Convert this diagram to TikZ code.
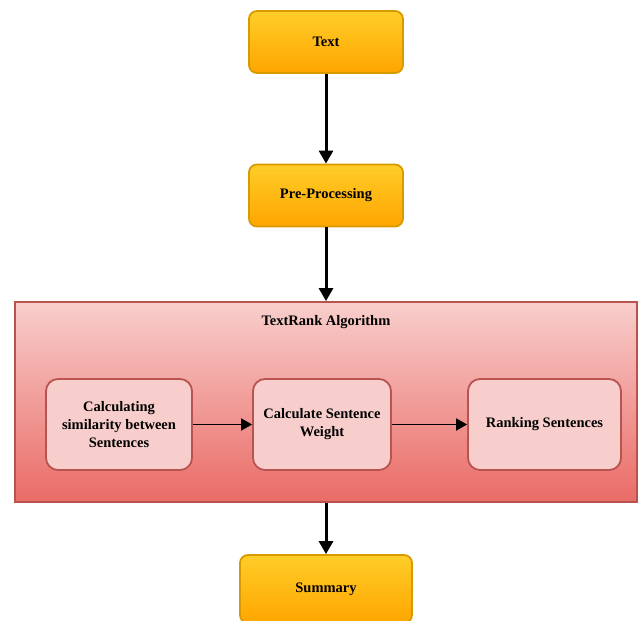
\documentclass[tikz,border=0pt]{standalone}
\usepackage{fontspec}
\setmainfont{Liberation Serif}
\usetikzlibrary{arrows.meta}
\definecolor{orT}{HTML}{FFCD28}
\definecolor{orB}{HTML}{FFA500}
\definecolor{orD}{HTML}{D79B00}
\definecolor{rdT}{HTML}{F8CECC}
\definecolor{rdB}{HTML}{EA6B66}
\definecolor{rdD}{HTML}{B85450}
\tikzset{
  lbl/.style={font=\bfseries\fontsize{14.5}{18}\selectfont},
  orbox/.style={rectangle, rounded corners=8pt, draw=orD, line width=1.8pt, top color=orT, bottom color=orB, lbl, align=center, inner sep=0pt},
  inbox/.style={rectangle, rounded corners=12pt, draw=rdD, line width=1.8pt, fill=rdT, lbl, align=center, inner sep=0pt},
  bigarrow/.style={line width=3pt, -{Triangle[length=13pt,width=14pt]}},
  smallarrow/.style={line width=1.8pt, -{Triangle[length=11pt,width=12pt]}}
}
\begin{document}
\begin{tikzpicture}[x=1pt,y=-1pt]
\useasboundingbox (0,0) rectangle (644,620);
\clip (0,0) rectangle (644,620);
\node[orbox, minimum width=154pt, minimum height=62pt] (text) at (326,42) {Text};
\node[orbox, minimum width=154pt, minimum height=62pt] (pre) at (326,195.5) {Pre-Processing};
\node[rectangle, draw=rdD, line width=1.8pt, top color=rdT, bottom color=rdB, minimum width=622pt, minimum height=200pt, inner sep=0pt] (alg) at (326,402) {};
\node[lbl] (title) at (326,322) {TextRank Algorithm};
\node[inbox, minimum width=146pt, minimum height=91pt] (c1) at (119,424.5) {Calculating\\similarity between\\Sentences};
\node[inbox, minimum width=138pt, minimum height=91pt] (c2) at (322,424.5) {Calculate Sentence\\Weight};
\node[inbox, minimum width=153pt, minimum height=91pt] (c3) at (544.5,424.5) {Ranking Sentences};
\node[orbox, minimum width=172pt, minimum height=68pt] (sum) at (326,589) {Summary};
\draw[bigarrow] (text) -- (pre);
\draw[bigarrow] (pre) -- (alg);
\draw[bigarrow] (alg) -- (sum);
\draw[smallarrow] (c1) -- (c2);
\draw[smallarrow] (c2) -- (c3);
\end{tikzpicture}
\end{document}
